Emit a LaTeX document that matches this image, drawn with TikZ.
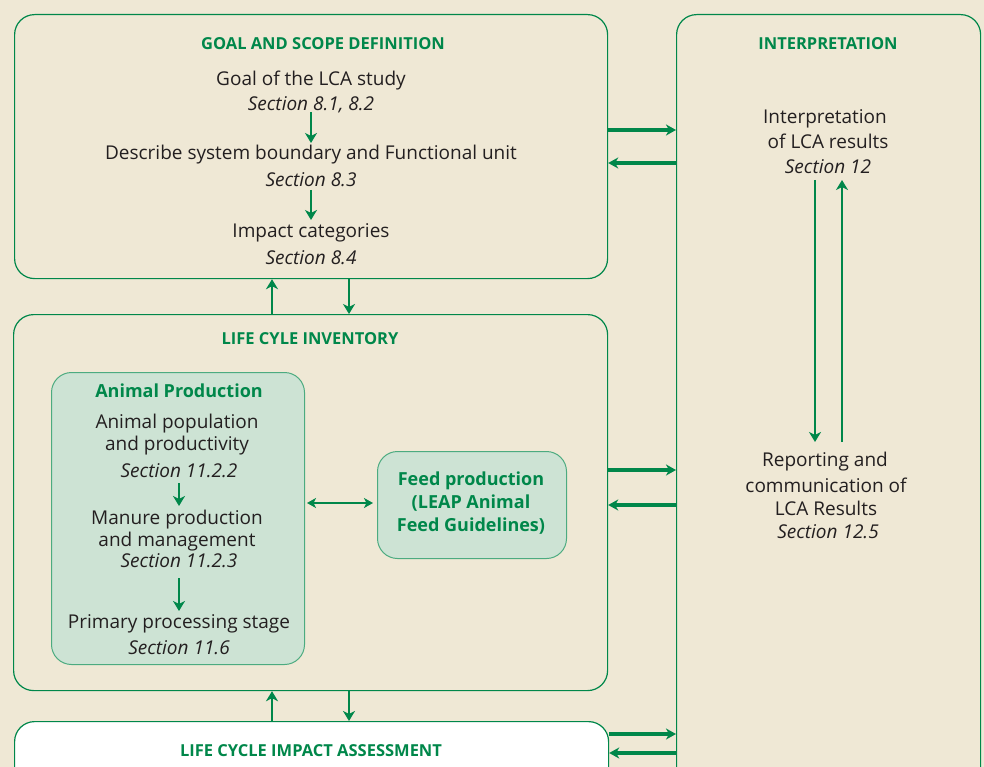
\documentclass[tikz,border=0pt]{standalone}
\usepackage{fontspec}
\setmainfont{Open Sans}
\usetikzlibrary{arrows.meta}
\definecolor{bg}{HTML}{EFE8D5}
\definecolor{lgreen}{HTML}{00874A}
\definecolor{lfill}{HTML}{CDE3D4}
\definecolor{tgray}{HTML}{231F20}
\begin{document}
\begin{tikzpicture}[x=1pt,y=-1pt,
  panel/.style={draw=lgreen,line width=1.2pt,rounded corners=20pt},
  title/.style={font=\fontsize{16.5}{19}\selectfont\bfseries,text=lgreen,anchor=center,yshift=-1pt},
  txt/.style={font=\fontsize{19}{22}\selectfont,text=tgray,anchor=center,inner sep=0pt,yshift=-2pt},
  sect/.style={font=\fontsize{19}{22}\selectfont\itshape,text=tgray,anchor=center,inner sep=0pt,yshift=-1.5pt},
  gtxt/.style={font=\fontsize{18}{21}\selectfont\bfseries,text=lgreen,anchor=center,inner sep=0pt,yshift=-1.5pt},
  thick arrow/.style={draw=lgreen,line width=3.4pt,-{Stealth[length=10pt,width=11pt,inset=3pt]}},
  thin arrow/.style={draw=lgreen,line width=2.8pt,-{Stealth[length=10pt,width=12pt,inset=3pt]}},
]
\useasboundingbox (0,0) rectangle (984,767);
\fill[bg] (0,0) rectangle (984,767);
\begin{scope}
\clip (0,0) rectangle (984,767);
% panels
\node[panel,minimum width=593pt,minimum height=264pt,anchor=north west,inner sep=0pt] (goal) at (14,14) {};
\node[panel,minimum width=304pt,minimum height=800pt,anchor=north west,inner sep=0pt] (interp) at (676,14) {};
\node[panel,minimum width=594pt,minimum height=376pt,anchor=north west,inner sep=0pt] (lci) at (13,314) {};
\node[panel,fill=white,minimum width=594pt,minimum height=100pt,anchor=north west,inner sep=0pt] (lcia) at (14,721) {};
\node[panel,fill=lfill,draw=lgreen!70,line width=1pt,minimum width=253pt,minimum height=292pt,anchor=north west,inner sep=0pt] (animal) at (51,372) {};
\node[panel,fill=lfill,draw=lgreen!70,line width=1pt,minimum width=189pt,minimum height=107pt,anchor=north west,inner sep=0pt] (feed) at (377,451) {};
\end{scope}

% goal texts
\node[title] (goalt) at (323,43) {GOAL AND SCOPE DEFINITION};
\node[txt] (g1) at (311,79) {Goal of the LCA study};
\node[sect] (g1s) at (311,103) {Section 8.1, 8.2};
\node[txt] (g2) at (311,153) {Describe system boundary and Functional unit};
\node[sect] (g2s) at (311,178) {Section 8.3};
\node[txt] (g3) at (311,231) {Impact categories};
\node[sect] (g3s) at (311,256) {Section 8.4};
\coordinate (a1s) at (311,112); \coordinate (a1e) at (311,143);
\coordinate (a2s) at (311,190); \coordinate (a2e) at (311,220);
\draw[thin arrow] (a1s) -- (a1e);
\draw[thin arrow] (a2s) -- (a2e);

% interpretation texts
\node[title] (intt) at (828,43) {INTERPRETATION};
\node[txt] (i1) at (825,117) {Interpretation};
\node[txt] (i1b) at (828,139) {of LCA results};
\node[sect] (i1s) at (828,165) {Section 12};
\node[txt] (i2) at (825,460) {Reporting and};
\node[txt] (i2b) at (826,483) {communication of};
\node[txt] (i2c) at (826,506) {LCA Results};
\node[sect] (i2s) at (828,530) {Section 12.5};
\coordinate (id1) at (815,180); \coordinate (id2) at (815,442);
\coordinate (iu1) at (842,442); \coordinate (iu2) at (842,180);
\draw[thin arrow] (id1) -- (id2);
\draw[thin arrow] (iu1) -- (iu2);

% LCI texts
\node[title] (lcit) at (310,338) {LIFE CYLE INVENTORY};
\node[gtxt] (apt) at (179,389) {Animal Production};
\node[txt] (ap1) at (177,422) {Animal population};
\node[txt] (ap1b) at (177,444) {and productivity};
\node[sect] (ap1s) at (179,469) {Section 11.2.2};
\node[txt] (ap2) at (177,518) {Manure production};
\node[txt] (ap2b) at (177,540) {and management};
\node[sect] (ap2s) at (179,559) {Section 11.2.3};
\node[txt] (ap3) at (179,622) {Primary processing stage};
\node[sect] (ap3s) at (179,646) {Section 11.6};
\coordinate (b1s) at (179,483); \coordinate (b1e) at (179,506);
\coordinate (b2s) at (179,578); \coordinate (b2e) at (179,611);
\draw[thin arrow] (b1s) -- (b1e);
\draw[thin arrow] (b2s) -- (b2e);
\node[gtxt] (f1) at (471,479) {Feed production};
\node[gtxt] (f2) at (471,502) {(LEAP Animal};
\node[gtxt] (f3) at (471,525) {Feed Guidelines)};
\coordinate (dl) at (307,503); \coordinate (dr) at (373,503);
\draw[draw=lgreen,line width=2.4pt,{Stealth[length=9pt,width=10pt,inset=2.5pt]}-{Stealth[length=9pt,width=10pt,inset=2.5pt]}] (dl) -- (dr);

% LCIA
\node[title] (lciat) at (311,750) {LIFE CYCLE IMPACT ASSESSMENT};

% vertical connectors
\draw[thin arrow] (lci.north -| 272,0) -- (goal.south -| 272,0);
\draw[thin arrow] (goal.south -| 349,0) -- (lci.north -| 349,0);
\draw[thin arrow] (lcia.north -| 272,0) -- (lci.south -| 272,0);
\draw[thin arrow] (lci.south -| 349,0) -- (lcia.north -| 349,0);

% horizontal connectors
\draw[thick arrow] (goal.east |- 0,130) -- (interp.west |- 0,130);
\draw[thick arrow] (interp.west |- 0,163) -- (goal.east |- 0,163);
\draw[thick arrow] (lci.east |- 0,470) -- (interp.west |- 0,470);
\draw[thick arrow] (interp.west |- 0,505) -- (lci.east |- 0,505);
\draw[thick arrow] (lcia.east |- 0,734) -- (interp.west |- 0,734);
\draw[thick arrow] (interp.west |- 0,753) -- (lcia.east |- 0,753);
\end{tikzpicture}
\end{document}
